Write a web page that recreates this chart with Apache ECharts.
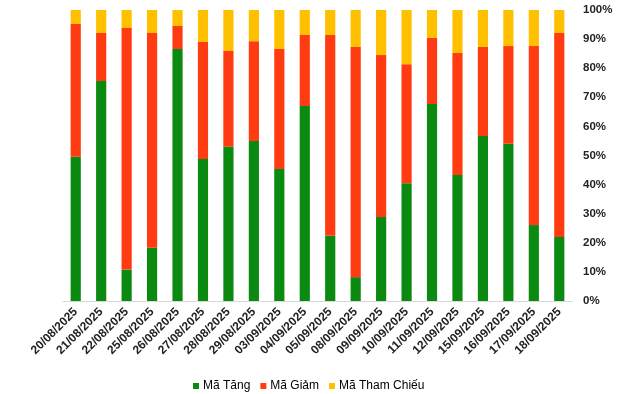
<!DOCTYPE html>
<html><head><meta charset="utf-8">
<script src="https://cdn.jsdelivr.net/npm/echarts@6/dist/echarts.min.js"></script>
<style>html,body{margin:0;padding:0;background:#fff}#c{width:641px;height:394px}</style>
</head><body><div id="c"></div>
<script>
const categories = ['20/08/2025','21/08/2025','22/08/2025','25/08/2025','26/08/2025','27/08/2025','28/08/2025','29/08/2025','03/09/2025','04/09/2025','05/09/2025','08/09/2025','09/09/2025','10/09/2025','11/09/2025','12/09/2025','15/09/2025','16/09/2025','17/09/2025','18/09/2025'];
const maTang =      [49.6, 75.6, 10.8, 18.3, 86.6, 48.8, 53.0, 55.0, 45.4, 67.0, 22.4,  8.2, 28.9, 40.5, 67.7, 43.3, 56.7, 54.0, 26.1, 22.0];
const maGiam =      [45.6, 16.5, 83.0, 73.8,  7.9, 40.2, 32.9, 34.3, 41.2, 24.4, 69.0, 79.1, 55.6, 40.9, 22.7, 41.9, 30.6, 33.6, 61.5, 70.1];
const maThamChieu = [ 4.8,  7.9,  6.2,  7.9,  5.5, 11.0, 14.1, 10.7, 13.4,  8.6,  8.6, 12.7, 15.5, 18.6,  9.6, 14.8, 12.7, 12.4, 12.4,  7.9];
const yTicks = [0,10,20,30,40,50,60,70,80,90,100];

const chart = echarts.init(document.getElementById('c'), null, {renderer:'canvas'});
const font = 'Liberation Sans, Arial, sans-serif';
chart.setOption({
  animation: false,
  backgroundColor: '#fff',
  grid: {left: 63, right: 69, top: 10, bottom: 93},
  legend: {
    data: ['Mã Tăng','Mã Giảm','Mã Tham Chiếu'],
    left: 188, top: 375,
    icon: 'rect', itemWidth: 6, itemHeight: 6, itemGap: 10,
    textStyle: {fontFamily: font, fontSize: 12, color: '#000', padding: [0,0,0,-1]}
  },
  xAxis: {
    type: 'category', data: categories,
    axisLine: {lineStyle: {color: '#d9d9d9', width: 1}},
    axisTick: {show: false},
    axisLabel: {rotate: 45, interval: 0, fontFamily: font, fontSize: 12, fontWeight: 'bold', color: '#222', margin: 9}
  },
  yAxis: {
    type: 'value', position: 'right', min: 0, max: 100, interval: 10,
    splitLine: {show: false},
    axisLine: {show: false}, axisTick: {show: false},
    axisLabel: {formatter: v => yTicks.includes(v) ? v + '%' : '', fontFamily: font, fontSize: 11.5, fontWeight: 'bold', color: '#222', margin: 11}
  },
  series: [
    {name: 'Mã Tăng', type: 'bar', stack: 's', data: maTang, barWidth: '40%', itemStyle: {color: '#0A8A10'}},
    {name: 'Mã Giảm', type: 'bar', stack: 's', data: maGiam, itemStyle: {color: '#FF3B12'}},
    {name: 'Mã Tham Chiếu', type: 'bar', stack: 's', data: maThamChieu, itemStyle: {color: '#FFC000'}}
  ]
});
</script></body></html>
